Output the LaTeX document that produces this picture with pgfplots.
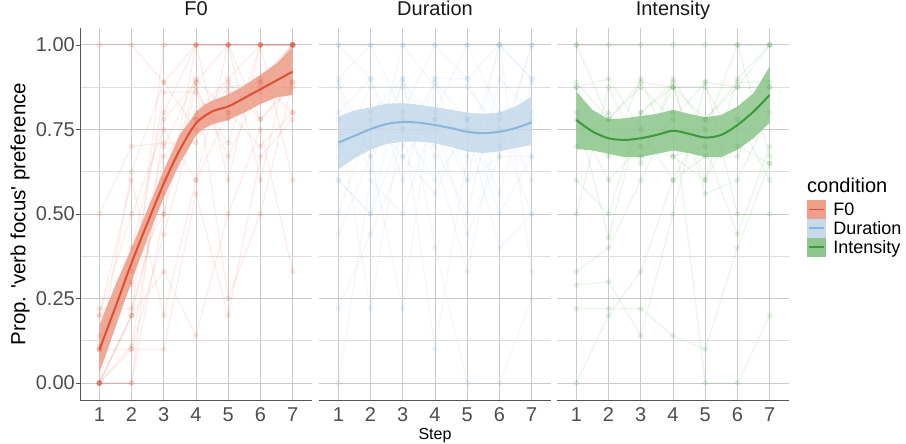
\documentclass[border=0pt]{standalone}
\usepackage{fontspec}
\setmainfont{Liberation Sans}
\usepackage{pgfplots}
\usepackage{pgfplotstable}
\pgfplotsset{compat=1.18}

\definecolor{F0line}{HTML}{DE4F33}
\definecolor{F0fill}{HTML}{EE9E8A}
\definecolor{DUline}{HTML}{8AB6DC}
\definecolor{DUfill}{HTML}{C6DAEC}
\definecolor{INline}{HTML}{3B9A3B}
\definecolor{INfill}{HTML}{8EC78E}
\definecolor{gridc}{HTML}{CACACA}
\definecolor{minorc}{HTML}{DCDCDC}
\definecolor{axc}{HTML}{555555}
\definecolor{tickc}{HTML}{4D4D4D}

\pgfplotstableread{
step p1 p2 p3 p4 p5 p6 p7 p8 p9 p10 p11 p12 p13 p14 p15 p16 p17 p18
1 0 0 0.1 0.2 0 0.22 0 0.1 0.5 0 1 0.14 0 0.2 0 0.11 0 0.1
2 0 0.2 0.3 0.5 0.1 0.22 0.4 0.1 0.7 0.2 1 0.29 0 0.6 0.11 0.33 0.2 0.625
3 0.5 0.6 0.7 0.75 0.44 0.56 0.8 0.1 0.71 0.33 0.89 0.86 0.78 0.2 0.67 0.5 1 0.89
4 1 0.8 0.9 0.6 0.78 0.89 1 0.56 0.71 0.14 1 0.86 0.89 0.6 0.78 0.875 1 0.75
5 1 0.9 0.8 0.8 0.78 1 0.6 0.2 0.86 0.5 1 0.71 0.25 1 0.89 0.67 1 0.875
6 1 1 0.9 0.7 0.89 0.78 1 0.67 0.86 0.75 1 1 0.5 0.6 0.78 0.875 1 0.89
7 1 1 1 0.8 1 0.89 1 0.78 1 0.33 1 0.6 0.89 1 0.875 1 1 0.8
}\Fzero

\pgfplotstableread{
step p1 p2 p3 p4 p5 p6 p7 p8 p9 p10 p11 p12 p13 p14 p15
1 1 0.8 0.6 0.875 0.5 0.7 0.9 0.44 0.78 0 0.67 1 0.89 0.6 0.22
2 1 0.9 0.5 0.625 0.78 0.8 1 0.67 0.22 0.6 0.875 0.9 0.67 0.5 0.44
3 1 0.7 0.9 1 0.67 0.9 0.8 0.22 0.78 0.5 0.875 0.6 0.89 0.75 0.67
4 1 0.9 0.4 0.875 0.56 0.7 1 0.89 0.1 0.8 0.67 0.9 0.78 0.6 0.78
5 1 0.6 0 0.875 0.78 0.5 0.9 0.78 0.67 1 0.33 0.9 0.6 0.75 0.44
6 1 1 0 0.75 0.5 0.9 0.7 0.56 1 0.8 0.78 1 0.67 0.4 0.67
7 1 0.9 0.25 0.5 0.67 0.8 1 0.89 0.33 0.6 0.78 0.9 1 0.5 0.67
}\Dur

\pgfplotstableread{
step p1 p2 p3 p4 p5 p6 p7 p8 p9 p10 p11 p12 p13 p14
1 1 0.89 0.6 0.33 0.875 0 0.22 0.8 1 0.78 0.5 0.7 0.29 0.875
2 1 0.78 0.5 0.4 0.9 0.2 0.22 0.43 0.78 0.6 0.875 0.8 0.3 0.67
3 1 0.89 0.8 0.6 0.75 0.33 0.22 0.8 0.875 0.7 0.67 0.65 0.14 0.9
4 1 0.875 0.875 0.8 0.6 0.6 0.14 0.89 0.78 0.67 0.875 0.9 0.5 0.67
5 1 0.78 0.6 0 0.78 0.67 0.1 0.56 0.89 0.7 0.875 0.75 0.89 0.6
6 1 0.89 0.78 0 0.875 0.67 0.4 0.6 0.875 0.44 0.7 1 0.5 0.9
7 1 0.89 0.6 0.2 0.875 0.875 0.65 0.8 1 0.7 0.65 0.67 0.5 1
}\Int

\pgfplotsset{
  panel/.style={
    scale only axis, width=232pt, height=372pt,
    anchor=south west,
    xmin=0.4, xmax=7.6, ymin=-0.05, ymax=1.05,
    xtick={1,...,7},
    ytick={0,0.25,0.5,0.75,1},
    minor ytick={0.125,0.375,0.625,0.875},
    grid=both,
    major grid style={gridc, line width=0.9pt},
    minor grid style={minorc, line width=0.8pt},
    axis x line*=bottom, axis y line*=left,
    x axis line style={axc, line width=0.8pt},
    y axis line style={axc, line width=0.8pt},
    tick align=outside, major tick length=4pt, minor tick length=0pt,
    xtick style={draw=none},
    ytick style={axc, line width=0.8pt},
    /pgf/number format/assume math mode=true,
    ticklabel style={font=\fontsize{20}{20}\selectfont, text=tickc},
    yticklabel style={inner sep=0pt, xshift=-1pt},
    title style={at={(axis description cs:0.5,1)}, anchor=base, yshift=6.3pt,
      font=\fontsize{20}{20}\selectfont, text=black!90},
  },
  faint/.style={#1, opacity=0.09, line width=1.4pt, mark=*, mark size=2.2pt,
    mark options={draw=none, fill=#1}, forget plot},
  mainline/.style={#1, line width=2pt, smooth, no marks, forget plot},
  ribbon/.style={draw=none, fill=#1, fill opacity=0.88, no marks, forget plot},
  noy/.style={yticklabels={}, ytick style={draw=none}, y axis line style={draw=none}},
}

\begin{document}
\begin{tikzpicture}
\useasboundingbox (0,0) rectangle (906pt,444pt);

% ---------- F0 ----------
\begin{axis}[panel, at={(80pt,44pt)}, title={F0},
  yticklabels={0.00,0.25,0.50,0.75,1.00},
  ylabel={Prop. \textquotesingle verb focus\textquotesingle\ preference},
  ylabel style={at={(axis description cs:-0.2586,0.5)}, anchor=center,
    font=\fontsize{20.5}{20.5}\selectfont, text=black}]
\pgfplotsinvokeforeach{1,...,18}{\addplot[faint=F0line] table[x=step, y=p#1]{\Fzero};}
\addplot[ribbon=F0fill] coordinates {
 (1,0.172)(1.5,0.29)(2,0.40)(2.5,0.515)(3,0.63)(3.5,0.735)(4,0.800)(4.25,0.822)(4.5,0.835)(5,0.853)(5.5,0.88)(6,0.912)(6.5,0.945)(7,0.993)
 (7,0.852)(6.5,0.845)(6,0.825)(5.5,0.80)(5,0.778)(4.5,0.765)(4.25,0.753)(4,0.732)(3.5,0.65)(3,0.55)(2.5,0.43)(2,0.30)(1.5,0.165)(1,0.03)};
\addplot[mainline=F0line] coordinates {(1,0.098)(1.5,0.225)(2,0.355)(2.5,0.475)(3,0.59)(3.5,0.69)(4,0.768)(4.5,0.803)(5,0.818)(5.5,0.843)(6,0.869)(6.5,0.895)(7,0.921)};
\end{axis}

% ---------- Duration ----------
\begin{axis}[panel, noy, at={(319pt,44pt)}, title={Duration},
  xlabel={Step},
  xlabel style={at={(axis description cs:0.5,0)}, anchor=base, yshift=-40pt,
    font=\fontsize{16}{16}\selectfont, text=black}]
\pgfplotsinvokeforeach{1,...,15}{\addplot[faint=DUline] table[x=step, y=p#1]{\Dur};}
\addplot[ribbon=DUfill] coordinates {
 (1,0.788)(1.5,0.806)(2,0.816)(2.5,0.826)(3,0.828)(3.5,0.823)(4,0.816)(4.5,0.808)(5,0.800)(5.5,0.796)(6,0.800)(6.5,0.818)(7,0.847)
 (7,0.704)(6.5,0.695)(6,0.685)(5.5,0.680)(5,0.685)(4.5,0.698)(4,0.709)(3.5,0.714)(3,0.714)(2.5,0.707)(2,0.690)(1.5,0.665)(1,0.632)};
\addplot[mainline=DUline] coordinates {(1,0.711)(1.5,0.731)(2,0.751)(2.5,0.766)(3,0.772)(3.5,0.770)(4,0.763)(4.5,0.754)(5,0.743)(5.5,0.739)(6,0.743)(6.5,0.754)(7,0.771)};
\end{axis}

% ---------- Intensity ----------
\begin{axis}[panel, noy, at={(557pt,44pt)}, title={Intensity},
  legend style={draw=none, fill=none, at={(axis description cs:1.0776,0.5376)},
    anchor=north west, inner sep=0pt, outer sep=0pt, row sep=0pt, column sep=8pt,
    font=\fontsize{18}{18}\selectfont, cells={anchor=west},
    nodes={inner sep=0pt, text height=12.8pt, text depth=0pt}}]
\pgfplotsinvokeforeach{1,...,14}{\addplot[faint=INline] table[x=step, y=p#1]{\Int};}
\addplot[ribbon=INfill] coordinates {
 (1,0.862)(1.5,0.808)(2,0.780)(2.5,0.783)(3,0.790)(3.5,0.796)(4,0.808)(4.5,0.796)(5,0.786)(5.5,0.793)(6,0.818)(6.5,0.857)(7,0.936)
 (7,0.770)(6.5,0.724)(6,0.690)(5.5,0.668)(5,0.668)(4.5,0.680)(4,0.688)(3.5,0.678)(3,0.668)(2.5,0.668)(2,0.678)(1.5,0.688)(1,0.692)};
\addplot[mainline=INline] coordinates {(1,0.778)(1.5,0.744)(2,0.724)(2.5,0.719)(3,0.724)(3.5,0.734)(4,0.746)(4.5,0.737)(5,0.726)(5.5,0.734)(6,0.763)(6.5,0.803)(7,0.852)};
\addlegendimage{legend image code/.code={\fill[F0fill] (0pt,-9.2pt) rectangle (18pt,9.2pt); \draw[F0line, line width=1.6pt] (1.5pt,0pt) -- (16.5pt,0pt);}}
\addlegendentry{F0}
\addlegendimage{legend image code/.code={\fill[DUfill] (0pt,-9.2pt) rectangle (18pt,9.2pt); \draw[DUline, line width=1.6pt] (1.5pt,0pt) -- (16.5pt,0pt);}}
\addlegendentry{Duration}
\addlegendimage{legend image code/.code={\fill[INfill] (0pt,-9.2pt) rectangle (18pt,9.2pt); \draw[INline, line width=1.6pt] (1.5pt,0pt) -- (16.5pt,0pt);}}
\addlegendentry{Intensity}
\end{axis}

\node[anchor=base west, inner sep=0pt, font=\fontsize{20}{20}\selectfont] at (807pt,251pt) {condition};
\end{tikzpicture}
\end{document}
